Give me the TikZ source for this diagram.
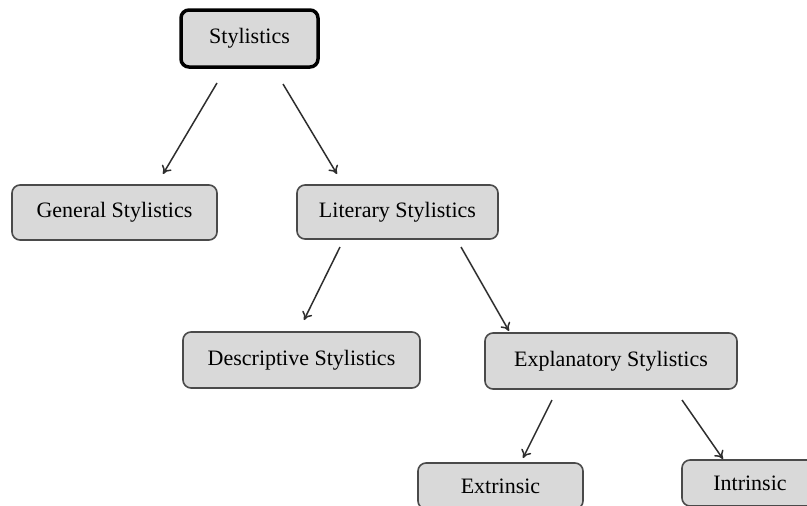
\documentclass[tikz,border=0pt]{standalone}
\usepackage{fontspec}
\setmainfont{Liberation Serif}
\usetikzlibrary{arrows.meta}
\definecolor{boxfill}{HTML}{D9D9D9}
\definecolor{boxline}{HTML}{4A4A4A}
\definecolor{arrline}{HTML}{2E2E2E}
\tikzset{
  box/.style={draw=boxline, line width=1.6pt, fill=boxfill, rounded corners=8pt,
    inner sep=0pt, outer sep=0pt, font=\fontsize{22}{26}\selectfont, text=black},
  rootbox/.style={box, draw=black, line width=3.5pt},
  arr/.style={draw=arrline, line width=1.5pt, -{To[length=8pt,width=11pt,line width=1.5pt]}}
}
\begin{document}
\begin{tikzpicture}[x=1pt,y=-1pt]
\useasboundingbox (0,0) rectangle (807,506);
\clip (0,0) rectangle (807,506);
\node[rootbox, minimum width=137pt, minimum height=57pt] (root) at (249.5,38.5) {Stylistics};
\node[box, minimum width=205pt, minimum height=55pt] (gen) at (114.5,212.5) {General Stylistics};
\node[box, minimum width=201pt, minimum height=54pt] (lit) at (397.5,212) {Literary Stylistics};
\node[box, minimum width=237pt, minimum height=56pt] (desc) at (301.5,360) {Descriptive Stylistics};
\node[box, minimum width=252pt, minimum height=56pt] (expl) at (611,361) {Explanatory Stylistics};
\node[box, minimum width=165pt, minimum height=46pt] (ext) at (500.5,486) {Extrinsic};
\node[box, minimum width=136pt, minimum height=46pt] (intr) at (750,483) {Intrinsic};
\coordinate (a1s) at (217,83);  \coordinate (a1e) at (163,174);
\coordinate (a2s) at (283,84);  \coordinate (a2e) at (337,174);
\coordinate (a3s) at (340,247); \coordinate (a3e) at (304,320);
\coordinate (a4s) at (461,247); \coordinate (a4e) at (509,331);
\coordinate (a5s) at (552,400); \coordinate (a5e) at (523,458);
\coordinate (a6s) at (682,400); \coordinate (a6e) at (723,459);
\draw[arr] (a1s) -- (a1e);
\draw[arr] (a2s) -- (a2e);
\draw[arr] (a3s) -- (a3e);
\draw[arr] (a4s) -- (a4e);
\draw[arr] (a5s) -- (a5e);
\draw[arr] (a6s) -- (a6e);
\end{tikzpicture}
\end{document}
